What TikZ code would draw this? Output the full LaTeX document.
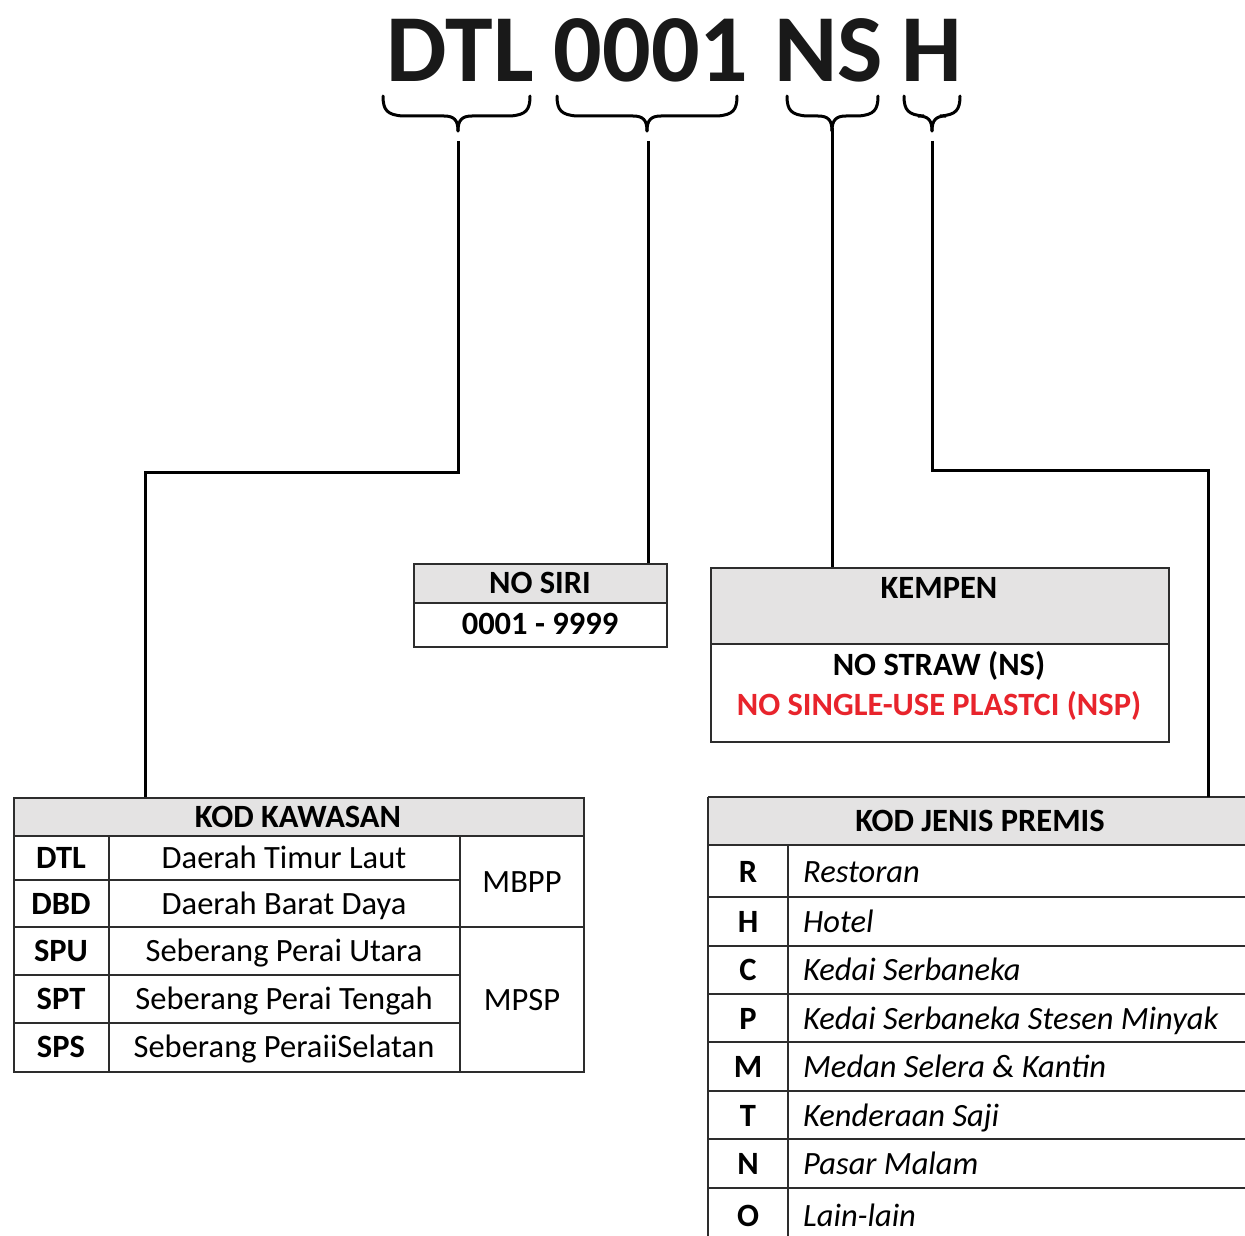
\documentclass[tikz,border=0pt]{standalone}
\usepackage{fontspec}
\setmainfont{Carlito}
\definecolor{hdr}{RGB}{228,227,227}
\definecolor{rulec}{RGB}{45,45,45}
\definecolor{nspred}{RGB}{232,36,44}
\newcommand\mybrace[3]{%
 \draw[bracestyle] (#1,96) .. controls (#1,110) and (#1+4,115) .. (#1+20,116) -- (#3-14,116) .. controls (#3-4,116) and (#3,120) .. (#3,131);
 \draw[bracestyle] (#2,96) .. controls (#2,110) and (#2-4,115) .. (#2-20,116) -- (#3+14,116) .. controls (#3+4,116) and (#3,120) .. (#3,131);
}
\begin{document}
\begin{tikzpicture}[x=1pt,y=-1pt,
 grid/.style={draw=rulec, line width=1.6pt},
 txt/.style={inner sep=0pt, anchor=base, font=\fontsize{32.5}{38}\selectfont},
 btxt/.style={txt, font=\fontsize{32.5}{38}\selectfont\bfseries},
 itxt/.style={txt, anchor=base west, font=\fontsize{32.5}{38}\selectfont\itshape},
 conn/.style={line width=3pt, black},
 bracestyle/.style={line width=3pt, black, line cap=round},
 big/.style={inner sep=0pt, anchor=base, font=\fontsize{96}{100}\selectfont\bfseries, text=black!90},
 frame/.style={inner sep=0pt, anchor=north west}
]
\useasboundingbox (0,0) rectangle (1245,1236);
\fill[white] (0,0) rectangle (1245,1236);
\clip (0,0) rectangle (1245,1236);

% ---- headline code ----
\node[big] (hDTL) at (460,82) {DTL};
\node[big] (h0001) at (651,82) {0001};
\node[big] (hNS) at (829,82) {NS};
\node[big] (hH) at (932,82) {H};

% ---- braces ----
\mybrace{383}{530}{458}
\mybrace{557}{737}{647}
\mybrace{787}{878}{832}
\mybrace{904}{960}{932}

\coordinate (t1) at (458,141);
\coordinate (t2) at (648,141);
\coordinate (t3) at (832,128);
\coordinate (t4) at (932,141);
\coordinate (e1) at (145,472);
\coordinate (e4) at (1208,470);

% ---- NO SIRI box ----
\fill[hdr] (413,563) rectangle (666,603);
\draw[grid] (413,603) -- (666,603);
\node[frame, grid, minimum width=253pt, minimum height=83pt] (siri) at (413,563) {};
\node[btxt] (siriH) at (540,593) {NO SIRI};
\node[btxt] (siriV) at (540,634) {0001 - 9999};

% ---- KEMPEN box ----
\fill[hdr] (710,567) rectangle (1168,644);
\draw[grid] (710,644) -- (1168,644);
\node[frame, grid, minimum width=458pt, minimum height=174pt] (kem) at (710,567) {};
\node[btxt] (kemH) at (939,598) {KEMPEN};
\node[btxt] (kemA) at (939,675) {NO STRAW (NS)};
\node[btxt, text=nspred] (kemB) at (939,715) {NO SINGLE-USE PLASTCI (NSP)};

% ---- KOD KAWASAN table ----
\fill[hdr] (13,797) rectangle (583,836);
\draw[grid] (13,836) -- (583,836);
\draw[grid] (109,836) -- (109,1071);
\draw[grid] (460,836) -- (460,1071);
\draw[grid] (13,880) -- (460,880);
\draw[grid] (13,927) -- (583,927);
\draw[grid] (13,975) -- (460,975);
\draw[grid] (13,1023) -- (460,1023);
\node[frame, grid, minimum width=570pt, minimum height=274pt] (kk) at (13,797) {};
\node[btxt] (kkH) at (298,827) {KOD KAWASAN};
\node[btxt] (kc1) at (61,868) {DTL};
\node[btxt] (kc2) at (61,914) {DBD};
\node[btxt] (kc3) at (61,961) {SPU};
\node[btxt] (kc4) at (61,1009) {SPT};
\node[btxt] (kc5) at (61,1057) {SPS};
\node[txt] (kd1) at (284,868) {Daerah Timur Laut};
\node[txt] (kd2) at (284,914) {Daerah Barat Daya};
\node[txt] (kd3) at (284,961) {Seberang Perai Utara};
\node[txt] (kd4) at (284,1009) {Seberang Perai Tengah};
\node[txt] (kd5) at (284,1057) {Seberang PeraiiSelatan};
\node[txt] (km1) at (522,892) {MBPP};
\node[txt] (km2) at (522,1010) {MPSP};

% ---- KOD JENIS PREMIS table ----
\fill[hdr] (708,797) rectangle (1260,845);
\node[frame, minimum width=552pt, minimum height=445pt] (kj) at (708,797) {};
\draw[grid] (708,797) -- (1260,797);
\draw[grid] (708,797) -- (708,1245);
\draw[grid] (788,845) -- (788,1245);
\foreach \yy in {845,897,946,994,1042,1091,1139,1188}{
  \draw[grid] (708,\yy) -- (1260,\yy);
}
\node[btxt] (kjH) at (980,831) {KOD JENIS PREMIS};
\node[btxt] (jc1) at (748,882) {R};
\node[btxt] (jc2) at (748,932) {H};
\node[btxt] (jc3) at (748,980) {C};
\node[btxt] (jc4) at (748,1029) {P};
\node[btxt] (jc5) at (748,1077) {M};
\node[btxt] (jc6) at (748,1126) {T};
\node[btxt] (jc7) at (748,1174) {N};
\node[btxt] (jc8) at (748,1226) {O};
\node[itxt] (jd1) at (803,882) {Restoran};
\node[itxt] (jd2) at (803,932) {Hotel};
\node[itxt] (jd3) at (803,980) {Kedai Serbaneka};
\node[itxt] (jd4) at (803,1029) {Kedai Serbaneka Stesen Minyak};
\node[itxt] (jd5) at (803,1077) {Medan Selera \& Kantin};
\node[itxt] (jd6) at (803,1126) {Kenderaan Saji};
\node[itxt] (jd7) at (803,1174) {Pasar Malam};
\node[itxt] (jd8) at (803,1226) {Lain-lain};

% ---- connectors ----
\draw[conn] (t1) |- (e1) -- (kk.north -| e1);
\draw[conn] (t2) -- (siri.north -| t2);
\draw[conn] (t3) -- (kem.north -| t3);
\draw[conn] (t4) |- (e4) -- (kj.north -| e4);
\end{tikzpicture}
\end{document}
